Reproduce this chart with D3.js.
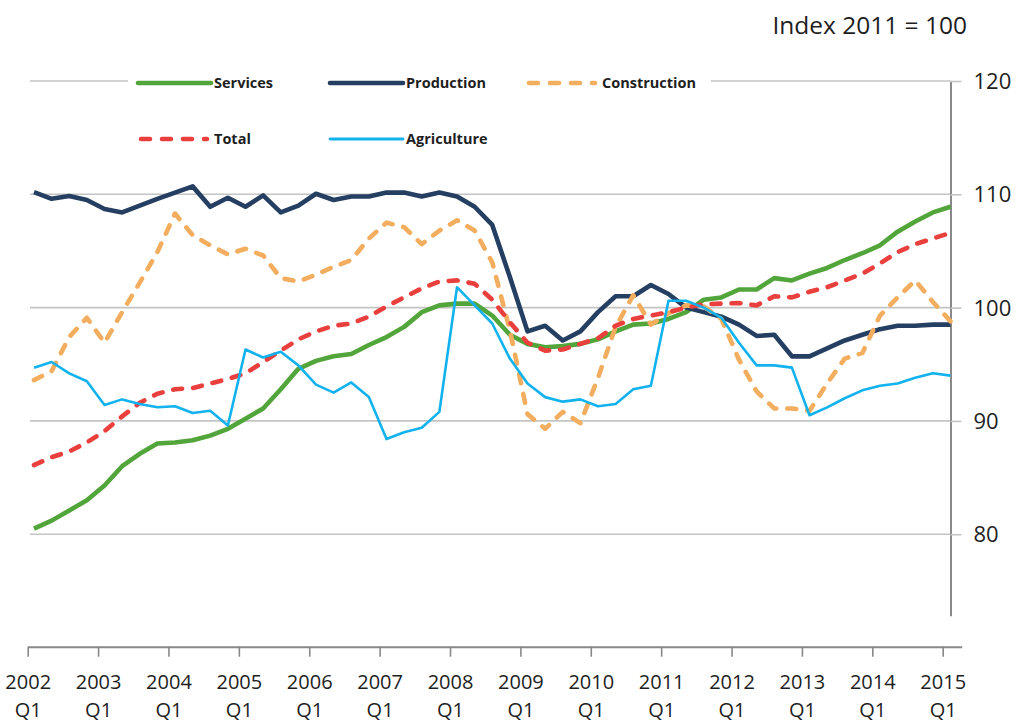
<!DOCTYPE html>
<html>
<head>
<meta charset="utf-8">
<script src="https://cdn.jsdelivr.net/npm/d3@7"></script>
<style>
  html, body { margin: 0; padding: 0; background: #fff; }
  svg { display: block; font-family: "Open Sans", "DejaVu Sans", sans-serif; }
</style>
</head>
<body>
<svg id="chart" width="1017" height="723"></svg>
<script>
// ---- data (2002 Q1 .. 2015 Q1, quarterly, Index 2011 = 100) ----
const startYear = 2002;
const yearTicks = [2002,2003,2004,2005,2006,2007,2008,2009,2010,2011,2012,2013,2014,2015];
const yTicks = [80, 90, 100, 110, 120];

const services = [80.5,81.2,82.1,83.0,84.3,86.0,87.1,88.0,88.1,88.3,88.7,89.3,90.2,91.1,92.8,94.6,95.3,95.7,95.9,96.7,97.4,98.3,99.6,100.2,100.35,100.35,99.3,97.6,96.8,96.5,96.6,96.8,97.2,97.9,98.5,98.6,99.0,99.6,100.7,100.9,101.6,101.6,102.6,102.4,103.0,103.5,104.2,104.8,105.5,106.7,107.6,108.4,108.9];
const production = [110.2,109.6,109.85,109.5,108.7,108.4,109.0,109.6,110.15,110.7,108.9,109.7,108.9,109.9,108.4,109.0,110.05,109.5,109.8,109.8,110.15,110.15,109.8,110.15,109.8,108.9,107.3,102.7,97.9,98.4,97.1,97.9,99.6,101.0,101.0,102.0,101.2,100.0,99.6,99.2,98.5,97.5,97.6,95.7,95.7,96.4,97.1,97.6,98.1,98.4,98.4,98.5,98.5];
const construction = [93.6,94.4,97.4,99.1,96.9,99.6,102.2,104.9,108.3,106.4,105.5,104.7,105.2,104.6,102.6,102.3,102.9,103.6,104.2,106.1,107.5,107.1,105.6,106.8,107.7,106.8,104.0,98.0,90.6,89.3,90.8,89.8,93.8,98.3,101.1,98.5,99.5,100.2,100.1,99.0,95.4,92.6,91.1,91.1,90.9,93.3,95.5,96.0,99.3,100.9,102.4,100.5,98.8];
const total = [86.1,86.8,87.3,88.1,89.1,90.4,91.6,92.4,92.8,92.9,93.3,93.7,94.2,95.2,96.2,97.2,97.9,98.4,98.6,99.2,100.1,100.9,101.7,102.3,102.4,102.1,100.7,98.7,96.9,96.2,96.3,96.8,97.3,98.4,99.0,99.3,99.6,100.0,100.3,100.35,100.4,100.2,101.0,100.9,101.4,101.8,102.4,103.0,103.9,104.9,105.6,106.1,106.6];
const agriculture = [94.7,95.2,94.2,93.5,91.4,91.9,91.5,91.2,91.3,90.7,90.9,89.6,96.3,95.6,96.1,94.9,93.2,92.5,93.4,92.1,88.4,89.0,89.4,90.8,101.8,100.2,98.6,95.5,93.3,92.1,91.7,91.9,91.3,91.5,92.8,93.1,100.6,100.6,100.0,99.1,96.9,94.9,94.9,94.7,90.5,91.2,92.0,92.7,93.1,93.3,93.8,94.2,94.0];

const seriesNames = ["Services","Production","Construction","Total","Agriculture"];
const seriesValues = [services, production, construction, total, agriculture];
const seriesColors = ["#52a53a","#253f62","#f2ad5e","#e9403e","#12b2ee"];
const seriesWidths = [4.6, 4.6, 4.6, 4.6, 2.6];
const seriesDash = [null, null, "9,11", "9,11", null];

// ---- layout ----
const svg = d3.select("#chart");
const n = services.length;

const x = d3.scaleLinear().domain([0, n - 1]).range([34, 950.5]);
const xYear = d3.scaleLinear().domain([2002, 2015.27]).range([27.7, 961.7]);
const y = d3.scaleLinear().domain([72.8, 120]).range([615.8, 81]);

// gridlines
svg.append("g").selectAll("line").data(yTicks).join("line")
  .attr("x1", 30).attr("x2", 950.5)
  .attr("y1", d => y(d)).attr("y2", d => y(d))
  .attr("stroke", "#c4c4c4").attr("stroke-width", 1.6);

// right axis
const yAxis = svg.append("g").attr("transform", "translate(950.5,0)")
  .call(d3.axisRight(y).tickValues(yTicks).tickSize(11).tickSizeOuter(0).tickPadding(12).tickFormat(d3.format("d")));
yAxis.select(".domain").attr("stroke", "#898989").attr("stroke-width", 2);
yAxis.selectAll(".tick line").attr("stroke", "#c4c4c4").attr("stroke-width", 1.6);
yAxis.selectAll(".tick text").attr("font-size", 22).attr("fill", "#1e1e1e")
  .attr("font-family", "'Open Sans', sans-serif").attr("dy", "0.34em");

// bottom axis
const xAxis = svg.append("g").attr("transform", "translate(0,646.7)")
  .call(d3.axisBottom(xYear).tickValues(yearTicks).tickSize(10).tickSizeOuter(0).tickFormat(""));
xAxis.select(".domain").attr("stroke", "#898989").attr("stroke-width", 2);
xAxis.selectAll(".tick line").attr("stroke", "#898989").attr("stroke-width", 1.6);
const tick = xAxis.selectAll(".tick");
tick.append("text").attr("x", 0).attr("y", 42.3)
  .attr("text-anchor", "middle").attr("font-size", 20).attr("fill", "#1e1e1e")
  .attr("font-family", "'Open Sans', sans-serif").text(d => d);
tick.append("text").attr("x", 0).attr("y", 70.3)
  .attr("text-anchor", "middle").attr("font-size", 20).attr("fill", "#1e1e1e")
  .attr("font-family", "'Open Sans', sans-serif").text("Q1");

// series lines
const line = d3.line().x((d, i) => x(i)).y(d => y(d));
seriesValues.forEach((vals, k) => {
  svg.append("path").datum(vals)
    .attr("d", line)
    .attr("fill", "none")
    .attr("stroke", seriesColors[k])
    .attr("stroke-width", seriesWidths[k])
    .attr("stroke-linejoin", "round")
    .attr("stroke-linecap", seriesDash[k] ? "round" : "butt")
    .attr("stroke-dasharray", seriesDash[k]);
});

// legend
svg.append("rect").attr("x", 128).attr("y", 70).attr("width", 583).attr("height", 24).attr("fill", "#fff");
const legendPos = [
  {x: 138, y: 83, tx: 214},
  {x: 330, y: 83, tx: 406},
  {x: 526, y: 83, tx: 602},
  {x: 138, y: 139, tx: 214},
  {x: 330, y: 139, tx: 406}
];
const lg = svg.append("g");
seriesNames.forEach((name, k) => {
  const p = legendPos[k];
  const dashed = !!seriesDash[k];
  lg.append("line")
    .attr("x1", p.x + (dashed ? 3 : 0)).attr("x2", p.x + (dashed ? 69 : 73))
    .attr("y1", p.y).attr("y2", p.y)
    .attr("stroke", seriesColors[k]).attr("stroke-width", seriesWidths[k] + (k === 4 ? 0.3 : 0))
    .attr("stroke-linecap", "round")
    .attr("stroke-dasharray", dashed ? "9,12" : null);
  lg.append("text").attr("x", p.tx).attr("y", p.y + 5)
    .attr("font-size", 14.5).attr("font-weight", "bold").attr("fill", "#1e1e1e")
    .attr("font-family", "'Open Sans', sans-serif")
    .text(name);
});

// units title
svg.append("text").attr("x", 967).attr("y", 34).attr("text-anchor", "end")
  .attr("font-size", 24.5).attr("fill", "#1e1e1e").attr("font-family", "'Open Sans', sans-serif")
  .text("Index 2011 = 100");
</script>
</body>
</html>
